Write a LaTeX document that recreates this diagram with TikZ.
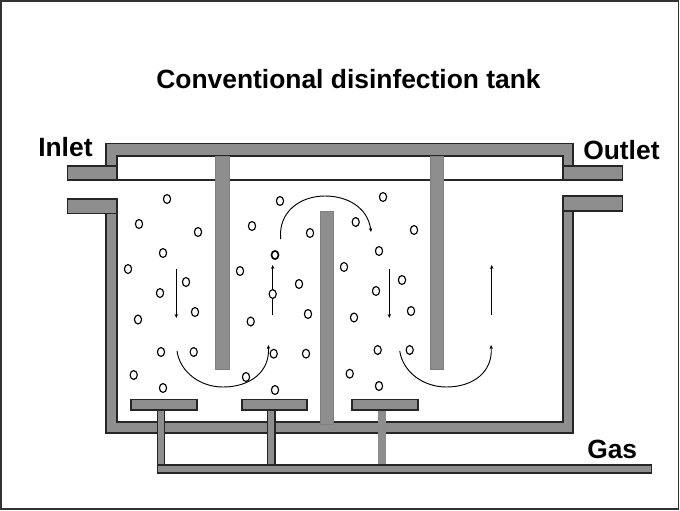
\documentclass[tikz,border=0pt]{standalone}
\usepackage{fontspec}
\setmainfont{Liberation Sans}
\definecolor{wallgrey}{HTML}{8E8E8E}
\usetikzlibrary{arrows.meta}
\tikzset{
  px/.style={x=0.75pt,y=-0.75pt},
  wall/.style={fill=wallgrey,draw=black!85,line width=1.3pt},
  baffle/.style={fill=wallgrey,draw=wallgrey!90!black,line width=0.3pt},
  softstem/.style={fill=wallgrey,draw=black!45,line width=0.6pt},
  bubble/.style={draw=black,line width=0.85pt,fill=white},
  flow/.style={draw=black,line width=0.7pt,-{Stealth[length=3pt,width=2.6pt]}},
  boldlabel/.style={inner sep=0pt,text=black,font=\fontsize{19.8pt}{22pt}\selectfont\bfseries}
}
\begin{document}
\begin{tikzpicture}[px]
\useasboundingbox (0,0) rectangle (680,510);
\fill[white] (0,0) rectangle (680,510);
\draw[black!80,line width=1.3pt] (1,1) rectangle (678.5,508.8);
% water line
\draw[black!85,line width=1.1pt] (117,180) -- (563,180);
% tank walls
\draw[wall] (106,166) -- (106,143.5) -- (573,143.5) -- (573,166) -- (563,166) -- (563,156) -- (117,156) -- (117,166) -- cycle;
\draw[wall] (106,213) -- (106,432.7) -- (573,432.7) -- (573,210.7) -- (563,210.7) -- (563,421.7) -- (117,421.7) -- (117,213) -- cycle;
% inlet and outlet pipes
\draw[wall] (67.5,166) rectangle (117,180.3);
\draw[wall] (67.5,199) rectangle (117,213.6);
\draw[wall] (563,166) rectangle (622.5,180.3);
\draw[wall] (563,196) rectangle (622.5,210.7);
% baffles
\draw[baffle] (215.5,156.5) rectangle (229.5,369);
\draw[baffle] (430,156.5) rectangle (443,369);
\draw[baffle] (320,210.7) rectangle (332.8,423.7);
% gas stems
\draw[wall,line width=1pt] (157.5,408) rectangle (164.6,466);
\draw[wall,line width=1pt] (267.8,408) rectangle (275,466);
\draw[softstem] (378.2,409) rectangle (385.6,466);
% diffusers
\draw[wall,line width=1.1pt] (131,399.5) rectangle (197,409.8);
\draw[wall,line width=1.1pt] (241.8,399.5) rectangle (307,409.8);
\draw[wall,line width=1.1pt] (352,399.5) rectangle (418,409.8);
% gas pipe
\draw[wall,line width=1.1pt] (157.5,465) rectangle (651.5,473);
% straight flow arrows
\coordinate (a1s) at (176.3,269); \coordinate (a1e) at (176.3,318);
\coordinate (a2s) at (272.7,315); \coordinate (a2e) at (272.7,265);
\coordinate (a3s) at (389.3,269); \coordinate (a3e) at (389.3,318);
\coordinate (a4s) at (491.7,315); \coordinate (a4e) at (491.7,265);
\draw[flow] (a1s) -- (a1e);
\draw[flow] (a2s) -- (a2e);
\draw[flow] (a3s) -- (a3e);
\draw[flow] (a4s) -- (a4e);
% curved flow arrows
\draw[flow] (280.7,239) .. controls (278,212) and (300,196) .. (325,196) .. controls (348,196) and (368,208) .. (371,232);
\draw[flow] (177,351) .. controls (180,372) and (200,387) .. (223,387) .. controls (250,387) and (270,372) .. (268.3,345);
\draw[flow] (399.7,351) .. controls (403,372) and (423,387) .. (446.5,387) .. controls (473,387) and (493,372) .. (491,345);
% bubbles
\foreach \x/\y in {167/199,139/224,198/232,163/253,128/269,186/282,160/293,195/312,138/319.5,
  280/201,252/226,310/233,240/271,299/284,272.7/294,308/314,250.7/321.5,
  383/197,355.7/222,414/230,379/251,344/267,402/280,376/291,411/311,354/317.5,
  161/352,193.7/352,273.7/353.7,306/353.7,133.7/375,246/377,163/388,275/390,
  377.7/350,409.7/350,349.7/373.7,379/386}
  {\draw[bubble] (\x,\y) ellipse [x radius=3.6,y radius=4.4];}
\draw[bubble,line width=1.2pt] (275,255) ellipse [x radius=3.5,y radius=4.1];
% labels
\node[boldlabel,anchor=base] (title) at (348.5,88.5) {Conventional disinfection tank};
\node[boldlabel,anchor=base west] (inlet) at (38,156.5) {Inlet};
\node[boldlabel,anchor=base west] (outlet) at (583,159) {Outlet};
\node[boldlabel,anchor=base west] (gas) at (587,458) {Gas};
\end{tikzpicture}
\end{document}
